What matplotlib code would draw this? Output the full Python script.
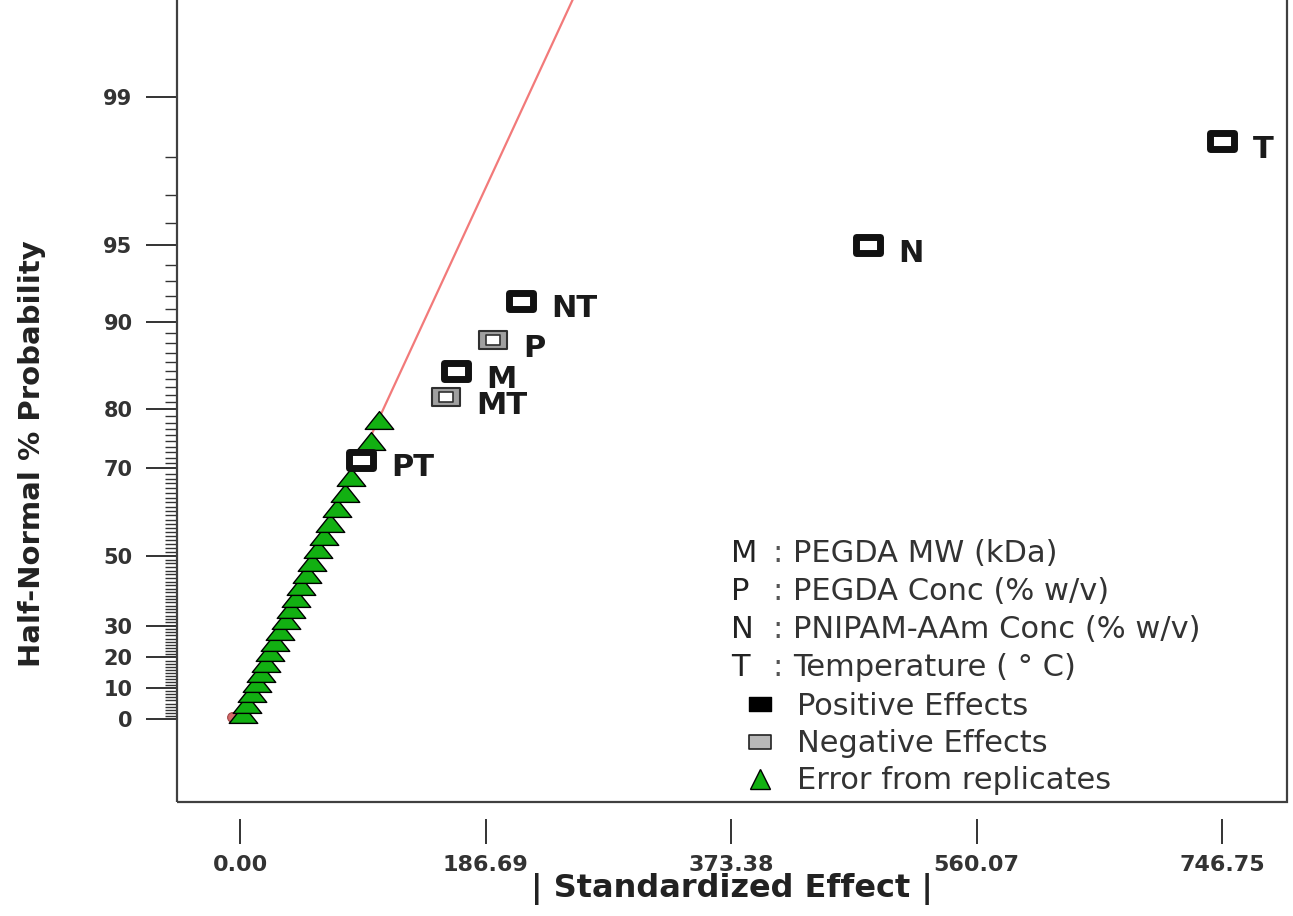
import math
from statistics import NormalDist

import numpy as np
import matplotlib
matplotlib.use("Agg")
import matplotlib.pyplot as plt
from matplotlib.path import Path
from matplotlib.lines import Line2D
from matplotlib.patches import Rectangle
from matplotlib.ticker import FixedLocator

# model terms with positive effect
pos_terms = ["PT", "M", "NT", "N", "T"]
pos_effect = [91.7, 163.9, 213.4, 477.4, 746.75]
pos_prob = [71.67, 85.0, 91.67, 95.0, 98.33]

# model terms with negative effect
neg_terms = ["MT", "P"]
neg_effect = [156.3, 192.1]
neg_prob = [81.67, 88.33]

# error estimates from replicates
err_effect = [2.0, 5.5, 9.0, 12.5, 16.0, 19.5, 23.0, 26.5, 30.5, 34.5, 38.5,
              42.5, 46.5, 50.5, 55.0, 59.5, 64.0, 68.5, 74.0, 79.5, 84.5,
              99.3, 105.4]
err_prob = [1.67, 5.0, 8.33, 11.67, 15.0, 18.33, 21.67, 25.0, 28.33, 31.67,
            35.0, 38.33, 41.67, 45.0, 48.33, 51.67, 55.0, 58.33, 61.67, 65.0,
            68.33, 75.0, 78.33]

# reference line through the error terms
line_effect = [0.0, 260.0]
line_prob = [0.0, 99.78]
origin_effect = [-6.0]
origin_prob = [0.5]

x_ticks = [0.00, 186.69, 373.38, 560.07, 746.75]
x_labels = ["0.00", "186.69", "373.38", "560.07", "746.75"]
y_major = [0, 10, 20, 30, 50, 70, 80, 90, 95, 99]
y_minor = [v for v in range(1, 99) if v not in y_major]

factor_keys = ["M", "P", "N", "T"]
factor_names = ["PEGDA MW (kDa)", "PEGDA Conc (% w/v)",
                "PNIPAM-AAm Conc (% w/v)", "Temperature ( \u00b0 C)"]

_nd = NormalDist()


def hn_forward(p):
    p = np.clip(np.asarray(p, dtype=float), -99.9999, 99.9999)
    return np.vectorize(lambda v: _nd.inv_cdf(0.5 + v / 200.0), otypes=[float])(p)


def hn_inverse(z):
    z = np.asarray(z, dtype=float)
    return np.vectorize(lambda v: 100.0 * math.erf(v / math.sqrt(2.0)), otypes=[float])(z)


# wide rectangle / flat triangle markers
rect = Path([(-0.75, -0.5), (0.75, -0.5), (0.75, 0.5), (-0.75, 0.5), (-0.75, -0.5)],
            closed=True)
tri = Path([(-0.8, -0.5), (0.8, -0.5), (0.0, 0.5), (-0.8, -0.5)], closed=True)

fig = plt.figure(figsize=(12.93, 9.16), dpi=100)
ax = fig.add_axes([177 / 1293, 114 / 916, 1110 / 1293, 805 / 916])
ax.set_yscale("function", functions=(hn_forward, hn_inverse))
ax.set_xlim(-48, 796)
ax.set_ylim(-27, 99.72)

ax.plot(line_effect, line_prob, color="#f27a7a", lw=1.6, zorder=2)
ax.plot(origin_effect, origin_prob, "o", ms=7, mfc="#d46a6a", mec="#a04848",
        mew=0.8, zorder=2.5)
ax.plot(err_effect, err_prob, ls="none", marker=tri, ms=20.5, mfc="#12b012",
        mec="black", mew=1.0, zorder=3)

# positive effects: thick black frame
ax.plot(pos_effect, pos_prob, ls="none", marker=rect, ms=17.5, mfc="white",
        mec="#111111", mew=5, zorder=4)
# negative effects: grey frame with thin outlines
ax.plot(neg_effect, neg_prob, ls="none", marker=rect, ms=20, mfc="#a0a0a0",
        mec="#303030", mew=1.5, zorder=4)
ax.plot(neg_effect, neg_prob, ls="none", marker=rect, ms=10, mfc="white",
        mec="#303030", mew=1.2, zorder=4.1)

for name, x, y in zip(pos_terms + neg_terms, pos_effect + neg_effect,
                      pos_prob + neg_prob):
    ax.annotate(name, (x, y), xytext=(22, -6), textcoords="offset points",
                ha="left", va="center", fontsize=22, fontweight="bold",
                color="#1a1a1a", zorder=5)

# frame drawn as a box, bottom ticks pushed away from it
for s in ax.spines.values():
    s.set_visible(False)
ax.spines["bottom"].set_position(("outward", 12))
ax.add_patch(Rectangle((0, 0), 1, 1, transform=ax.transAxes, fill=False,
                       lw=1.6, ec="#404040", clip_on=False, zorder=6))

ax.set_xticks(x_ticks, labels=x_labels, fontsize=16, fontweight="bold")
ax.tick_params(axis="x", direction="out", length=18, width=1.4, pad=8,
               colors="#333333")
ax.yaxis.set_major_locator(FixedLocator(y_major))
ax.yaxis.set_minor_locator(FixedLocator(y_minor))
ax.set_yticks(y_major, labels=[str(v) for v in y_major], fontsize=15,
              fontweight="bold")
ax.yaxis.set_minor_formatter(plt.NullFormatter())
ax.tick_params(axis="y", which="major", direction="out", length=22, width=1.4,
               pad=10, colors="#333333")
ax.tick_params(axis="y", which="minor", direction="out", length=9, width=1.0,
               colors="#333333")

ax.set_ylabel("Half-Normal % Probability", fontsize=21, fontweight="bold",
              color="#222222")
ax.yaxis.set_label_coords(-0.118, 0.433)
ax.set_xlabel("| Standardized Effect |", fontsize=23, fontweight="bold",
              color="#222222")
ax.xaxis.set_label_coords(0.5, -0.088)

# factor key
for i, (k, name) in enumerate(zip(factor_keys, factor_names)):
    y = 0.3093 - i * 0.0472
    ax.text(0.499, y, k, transform=ax.transAxes, fontsize=22, va="center",
            ha="left", color="#222222")
    ax.text(0.536, y, ":", transform=ax.transAxes, fontsize=22, va="center",
            ha="left", color="#555555")
    ax.text(0.555, y, name, transform=ax.transAxes, fontsize=22, va="center",
            ha="left", color="#333333")

handles = [
    Line2D([], [], ls="none", marker=rect, ms=16, mfc="black", mec="black"),
    Line2D([], [], ls="none", marker=rect, ms=16, mfc="#b8b8b8", mec="#222222",
           mew=1.2),
    Line2D([], [], ls="none", marker="^", ms=15, mfc="#12b012", mec="black",
           mew=1.0),
]
ax.legend(handles, ["Positive Effects", "Negative Effects", "Error from replicates"],
          loc="upper left", bbox_to_anchor=(0.5117, 0.1367), frameon=False,
          fontsize=22, labelspacing=0.27, handlelength=1.0, handletextpad=0.7,
          borderpad=0, borderaxespad=0, labelcolor="#333333")

fig.savefig("out.png", dpi=100)
